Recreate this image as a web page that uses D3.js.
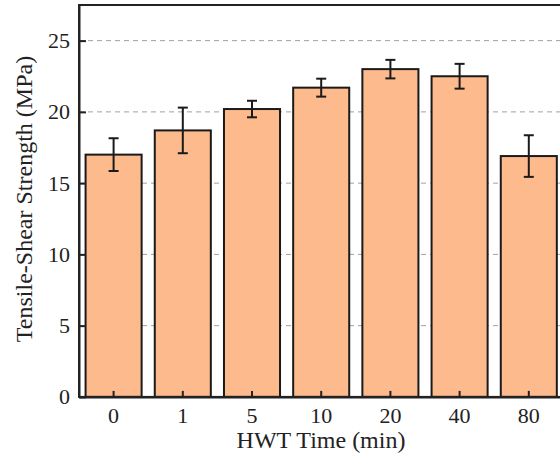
<!DOCTYPE html>
<html><head><meta charset="utf-8">
<script src="https://cdn.jsdelivr.net/npm/d3@7"></script>
<style>body{margin:0;background:#fff;}svg{display:block;} text{font-family:"Liberation Serif","Times New Roman",serif;}</style>
</head><body>
<svg id="c" width="560" height="460"></svg>
<script>
const categories = ["0", "1", "5", "10", "20", "40", "80"];
const strength = [17.0, 18.7, 20.2, 21.7, 23.0, 22.5, 16.9];
const errors = [1.15, 1.6, 0.58, 0.63, 0.65, 0.87, 1.46];
const yTicks = [0, 5, 10, 15, 20, 25];
const gridTicks = [5, 10, 15, 20, 25];

const svg = d3.select("#c");
const L = 79, R = 563.4, T = 5, B = 396.9;
const font = "Liberation Serif";

const x = d3.scaleBand().domain(categories).range([L, R]).paddingInner(0.19).paddingOuter(0.095);
const y = d3.scaleLinear().domain([0, 27.5]).range([B, T]);

// grid
svg.append("g").selectAll("line").data(gridTicks).join("line")
  .attr("x1", L).attr("x2", R).attr("y1", d => y(d)).attr("y2", d => y(d))
  .attr("stroke", "#a0a0a0").attr("stroke-width", 1).attr("stroke-dasharray", "5,4");

// bars
svg.append("g").selectAll("rect").data(categories).join("rect")
  .attr("x", d => x(d)).attr("width", x.bandwidth())
  .attr("y", (d, i) => y(strength[i])).attr("height", (d, i) => y(0) - y(strength[i]))
  .attr("fill", "#fdba8c").attr("stroke", "#1a1a1a").attr("stroke-width", 2);

// error bars
const eb = svg.append("g").attr("stroke", "#1a1a1a").attr("stroke-width", 2);
categories.forEach((c, i) => {
  const cx = x(c) + x.bandwidth() / 2;
  const hi = y(strength[i] + errors[i]), lo = y(strength[i] - errors[i]);
  eb.append("line").attr("x1", cx).attr("x2", cx).attr("y1", hi).attr("y2", lo);
  eb.append("line").attr("x1", cx - 5).attr("x2", cx + 5).attr("y1", hi).attr("y2", hi);
  eb.append("line").attr("x1", cx - 5).attr("x2", cx + 5).attr("y1", lo).attr("y2", lo);
});

// frame
svg.append("rect").attr("x", L).attr("y", T).attr("width", R - L).attr("height", B - T)
  .attr("fill", "none").attr("stroke", "#222").attr("stroke-width", 2);

// axes
const ya = svg.append("g").attr("transform", `translate(${L},0)`)
  .call(d3.axisLeft(y).tickValues(yTicks).tickSizeInner(-7).tickSizeOuter(0).tickPadding(9));
const xa = svg.append("g").attr("transform", `translate(0,${B})`)
  .call(d3.axisBottom(x).tickSizeInner(-6).tickSizeOuter(0).tickPadding(10));
[ya, xa].forEach(a => {
  a.attr("font-family", null).attr("font-size", null);
  a.select(".domain").attr("stroke", "#222").attr("stroke-width", 2);
  a.selectAll(".tick line").attr("stroke", "#222").attr("stroke-width", 2);
  a.selectAll(".tick text").style("font-family", font).style("font-size", "22px").attr("fill", "#222");
});

// labels
svg.append("text").attr("x", 321).attr("y", 448)
  .attr("text-anchor", "middle").style("font-family", font).style("font-size", "24px").attr("fill", "#222")
  .text("HWT Time (min)");
svg.append("text").attr("transform", `translate(32,${(55 + 343) / 2}) rotate(-90)`)
  .attr("text-anchor", "middle").style("font-family", font).style("font-size", "24px").attr("fill", "#222")
  .text("Tensile-Shear Strength (MPa)");
</script>
</body></html>
